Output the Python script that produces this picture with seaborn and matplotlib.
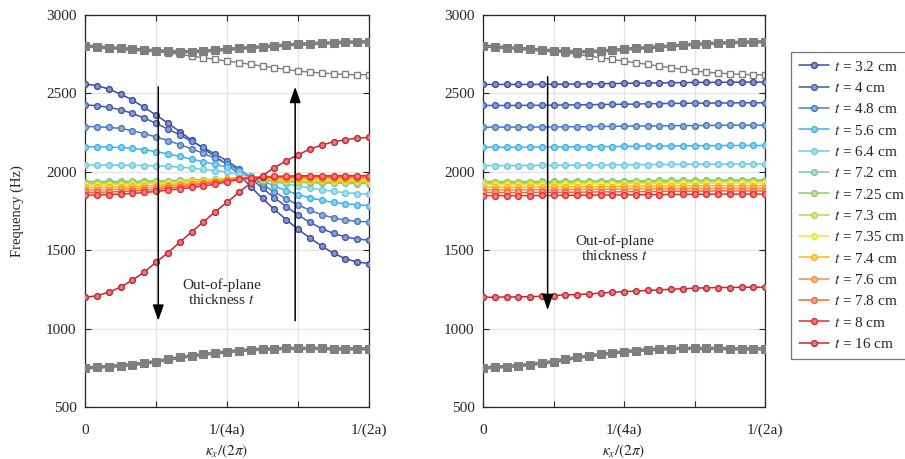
import numpy as np
import seaborn as sns
import matplotlib.pyplot as plt
from matplotlib.colors import to_rgb

sns.set_theme(style='white')
plt.rcParams['font.family'] = ['Liberation Serif', 'DejaVu Serif']
plt.rcParams['mathtext.fontset'] = 'stix'

# wavenumber samples, 0 .. 1/(2a)
kx = np.linspace(0, 0.5, 25)

thickness = ['3.2', '4', '4.8', '5.6', '6.4', '7.2', '7.25', '7.3', '7.35', '7.4', '7.6', '7.8', '8', '16']
colors = ['#3a4d9f', '#3f5bab', '#4a78be', '#3fb2e6', '#6ccbe0', '#7dc79f', '#8ccf68', '#c0d640',
          '#f2e52a', '#fdb515', '#f68e3a', '#f0663f', '#ec2a2a', '#c62630']

# ---- left panel (bands vs thickness) ----
left_32 = [2560, 2550, 2528, 2496, 2458, 2411, 2362, 2311, 2256, 2203, 2149, 2096, 2049, 1985, 1905, 1830, 1760, 1695, 1634, 1578, 1527, 1480, 1446, 1425, 1415]
left_4 = [2426, 2422, 2411, 2396, 2373, 2343, 2309, 2273, 2236, 2194, 2155, 2113, 2070, 2020, 1960, 1895, 1835, 1778, 1725, 1678, 1638, 1607, 1585, 1571, 1564]
left_48 = [2288, 2288, 2283, 2277, 2262, 2244, 2222, 2199, 2174, 2147, 2118, 2086, 2052, 2012, 1968, 1920, 1872, 1828, 1789, 1755, 1727, 1706, 1692, 1684, 1681]
left_56 = [2160, 2160, 2158, 2155, 2149, 2141, 2129, 2114, 2098, 2081, 2064, 2047, 2030, 2005, 1975, 1943, 1910, 1880, 1855, 1834, 1818, 1805, 1796, 1789, 1785]
left_64 = [2043, 2043, 2043, 2042, 2041, 2040, 2038, 2035, 2030, 2023, 2016, 2008, 1998, 1984, 1966, 1950, 1936, 1922, 1910, 1897, 1885, 1875, 1867, 1861, 1857]
left_72 = [1938, 1938, 1939, 1939, 1940, 1941, 1943, 1944, 1946, 1948, 1950, 1952, 1955, 1958, 1951, 1945, 1940, 1936, 1933, 1930, 1928, 1927, 1926, 1925, 1925]
left_725 = [1928, 1928, 1929, 1930, 1931, 1933, 1935, 1937, 1940, 1943, 1946, 1950, 1955, 1960, 1954, 1948, 1943, 1940, 1937, 1935, 1934, 1933, 1932, 1932, 1932]
left_73 = [1922, 1922, 1923, 1925, 1926, 1928, 1931, 1934, 1937, 1941, 1945, 1950, 1955, 1961, 1956, 1951, 1947, 1944, 1942, 1940, 1939, 1938, 1938, 1938, 1938]
left_735 = [1915, 1915, 1917, 1918, 1920, 1923, 1926, 1929, 1933, 1938, 1943, 1949, 1955, 1962, 1958, 1954, 1951, 1949, 1948, 1947, 1946, 1946, 1946, 1946, 1946]
left_74 = [1900, 1901, 1902, 1904, 1907, 1910, 1914, 1919, 1924, 1930, 1937, 1944, 1952, 1962, 1960, 1958, 1957, 1956, 1956, 1955, 1955, 1955, 1955, 1955, 1955]
left_76 = [1884, 1885, 1887, 1889, 1892, 1896, 1901, 1907, 1913, 1920, 1928, 1937, 1948, 1960, 1961, 1962, 1962, 1963, 1963, 1963, 1963, 1963, 1963, 1963, 1963]
left_78 = [1868, 1869, 1871, 1874, 1877, 1882, 1888, 1895, 1903, 1911, 1921, 1932, 1944, 1957, 1962, 1965, 1967, 1968, 1969, 1970, 1970, 1970, 1970, 1970, 1970]
left_8 = [1851, 1852, 1855, 1858, 1862, 1868, 1875, 1883, 1891, 1900, 1910, 1921, 1935, 1952, 1963, 1968, 1971, 1973, 1974, 1975, 1975, 1976, 1976, 1976, 1976]
left_16 = [1200, 1209, 1232, 1264, 1309, 1360, 1423, 1483, 1550, 1616, 1680, 1745, 1806, 1868, 1928, 1975, 2027, 2070, 2108, 2145, 2170, 2192, 2204, 2215, 2219]

# ---- right panel ----
right_32 = [2557, 2557, 2557, 2557, 2557, 2558, 2558, 2559, 2560, 2561, 2562, 2563, 2564, 2565, 2566, 2567, 2568, 2569, 2570, 2570, 2571, 2571, 2572, 2572, 2572]
right_4 = [2423, 2423, 2423, 2423, 2424, 2424, 2425, 2426, 2427, 2428, 2429, 2430, 2431, 2432, 2434, 2435, 2436, 2437, 2438, 2438, 2439, 2439, 2440, 2440, 2440]
right_48 = [2285, 2285, 2285, 2285, 2285, 2286, 2286, 2287, 2287, 2288, 2289, 2290, 2291, 2292, 2292, 2293, 2294, 2295, 2295, 2296, 2296, 2297, 2297, 2297, 2297]
right_56 = [2157, 2157, 2157, 2157, 2157, 2158, 2158, 2159, 2159, 2160, 2161, 2161, 2162, 2163, 2164, 2164, 2165, 2166, 2166, 2167, 2167, 2168, 2168, 2168, 2168]
right_64 = [2040, 2040, 2040, 2040, 2040, 2041, 2041, 2042, 2042, 2043, 2043, 2044, 2045, 2045, 2046, 2047, 2047, 2048, 2048, 2049, 2049, 2050, 2050, 2050, 2050]
right_72 = [1938, 1938, 1938, 1938, 1938, 1939, 1939, 1940, 1940, 1941, 1942, 1942, 1943, 1944, 1944, 1945, 1946, 1946, 1947, 1947, 1948, 1948, 1949, 1949, 1949]
right_725 = [1932, 1932, 1932, 1932, 1932, 1933, 1933, 1934, 1934, 1935, 1936, 1936, 1937, 1938, 1938, 1939, 1940, 1940, 1941, 1941, 1942, 1942, 1942, 1942, 1942]
right_73 = [1926, 1926, 1926, 1926, 1926, 1927, 1927, 1928, 1928, 1929, 1930, 1930, 1931, 1932, 1932, 1933, 1934, 1934, 1935, 1935, 1936, 1936, 1936, 1936, 1936]
right_735 = [1918, 1918, 1918, 1918, 1918, 1919, 1919, 1920, 1920, 1921, 1922, 1922, 1923, 1924, 1924, 1925, 1926, 1926, 1927, 1927, 1928, 1928, 1929, 1929, 1929]
right_74 = [1902, 1902, 1902, 1902, 1902, 1903, 1903, 1904, 1904, 1905, 1906, 1906, 1907, 1908, 1908, 1909, 1910, 1910, 1911, 1911, 1912, 1912, 1912, 1912, 1912]
right_76 = [1885, 1885, 1885, 1885, 1885, 1886, 1886, 1887, 1887, 1888, 1889, 1889, 1890, 1891, 1891, 1892, 1893, 1893, 1894, 1894, 1895, 1895, 1895, 1895, 1895]
right_78 = [1868, 1868, 1868, 1868, 1868, 1869, 1869, 1870, 1870, 1871, 1872, 1872, 1873, 1874, 1874, 1875, 1876, 1876, 1877, 1877, 1878, 1878, 1878, 1878, 1878]
right_8 = [1848, 1848, 1848, 1848, 1848, 1849, 1849, 1850, 1850, 1851, 1852, 1852, 1853, 1854, 1854, 1855, 1856, 1856, 1857, 1857, 1858, 1858, 1858, 1858, 1858]
right_16 = [1200, 1200, 1202, 1202, 1204, 1206, 1211, 1215, 1217, 1221, 1226, 1232, 1236, 1239, 1243, 1247, 1251, 1254, 1258, 1260, 1262, 1262, 1264, 1264, 1264]

# ---- grey bands (same in both panels) ----
grey_top = [2802, 2798, 2791, 2788, 2781, 2777, 2772, 2768, 2766, 2766, 2770, 2775, 2781, 2788, 2791, 2798, 2802, 2809, 2813, 2817, 2821, 2823, 2827, 2827, 2830]
grey_thin = [2802, 2798, 2791, 2788, 2781, 2777, 2768, 2758, 2749, 2738, 2728, 2717, 2706, 2696, 2685, 2674, 2664, 2653, 2642, 2636, 2630, 2625, 2621, 2619, 2619]
grey_low = [749, 754, 758, 764, 771, 779, 790, 803, 816, 826, 835, 844, 852, 859, 865, 869, 871, 874, 874, 874, 874, 871, 871, 871, 871]

left_curves = [left_32, left_4, left_48, left_56, left_64, left_72, left_725, left_73, left_735,
               left_74, left_76, left_78, left_8, left_16]
right_curves = [right_32, right_4, right_48, right_56, right_64, right_72, right_725, right_73, right_735,
                right_74, right_76, right_78, right_8, right_16]


def lighter(c, f=0.4):
    r, g, b = to_rgb(c)
    return (r + (1 - r) * f, g + (1 - g) * f, b + (1 - b) * f)


def draw_panel(ax, curves):
    grey = '#7f7f7f'
    sns.lineplot(x=kx, y=grey_thin, ax=ax, color=grey, lw=1.0, marker='s', ms=4.2,
                 mfc='white', mec=grey, mew=1.0, zorder=2)
    sns.lineplot(x=kx, y=grey_top, ax=ax, color=grey, lw=2.6, marker='s', ms=6,
                 mfc=grey, mec=grey, zorder=3)
    sns.lineplot(x=kx, y=grey_low, ax=ax, color=grey, lw=2.6, marker='s', ms=6,
                 mfc=grey, mec=grey, zorder=3)
    for t, c, vals in zip(thickness, colors, curves):
        sns.lineplot(x=kx, y=vals, ax=ax, color=c, lw=1.1, marker='o', ms=4.2,
                     mfc=lighter(c), mec=c, mew=1.0, label=f'$t$ = {t} cm', zorder=4)
    if ax.get_legend():
        ax.get_legend().remove()

    ax.set_xlim(0, 0.5)
    ax.set_ylim(500, 3000)
    ax.set_xticks([0, 0.125, 0.25, 0.375, 0.5])
    ax.set_xticklabels(['0', '', '1/(4a)', '', '1/(2a)'])
    ax.set_yticks([500, 1000, 1500, 2000, 2500, 3000])
    ax.grid(True, color='#e3e3e3', lw=0.9)
    ax.set_axisbelow(True)
    ax.tick_params(direction='in', length=4, width=0.8, labelsize=11, colors='#262626',
                   top=True, right=True, bottom=True, left=True)
    ax.tick_params(axis='x', pad=12)
    ax.tick_params(axis='y', pad=6)
    for s in ax.spines.values():
        s.set_color('#262626')
        s.set_linewidth(0.9)
    ax.set_xlabel(r'$\kappa_x/(2\pi)$', fontsize=11, color='#262626', labelpad=4)


fig = plt.figure(figsize=(9.05, 4.59), dpi=100)
ax1 = fig.add_axes([85 / 905, 1 - 407 / 459, 284 / 905, 392 / 459])
ax2 = fig.add_axes([483 / 905, 1 - 407 / 459, 282 / 905, 392 / 459])

draw_panel(ax1, left_curves)
draw_panel(ax2, right_curves)
ax1.set_ylabel('Frequency (Hz)', fontsize=10.5, color='#262626', labelpad=16)

arrow = dict(arrowstyle='-|>,head_length=0.8,head_width=0.28', color='black', lw=1.1,
             mutation_scale=12, shrinkA=0, shrinkB=0)
ax1.annotate('', xy=(0.129, 1050), xytext=(0.129, 2542), arrowprops=arrow, zorder=6)
ax1.annotate('', xy=(0.370, 2542), xytext=(0.370, 1050), arrowprops=arrow, zorder=6)
ax1.text(0.24, 1230, 'Out-of-plane\nthickness $t$', ha='center', va='center', fontsize=11,
         linespacing=1.05, zorder=7)
ax2.annotate('', xy=(0.1146, 1118), xytext=(0.1146, 2606), arrowprops=arrow, zorder=6)
ax2.text(0.233, 1510, 'Out-of-plane\nthickness $t$', ha='center', va='center', fontsize=11,
         linespacing=1.05, zorder=7)

handles, labels = ax2.get_legend_handles_labels()
leg = fig.legend(handles, labels, loc='upper left', bbox_to_anchor=(791 / 905, 1 - 52 / 459),
                 borderaxespad=0, fontsize=11, labelspacing=0.48, handlelength=2.0,
                 handletextpad=0.3, frameon=True, fancybox=False, edgecolor='#555555',
                 borderpad=0.5)
leg.get_frame().set_linewidth(0.9)

fig.savefig('out.png', dpi=100)
